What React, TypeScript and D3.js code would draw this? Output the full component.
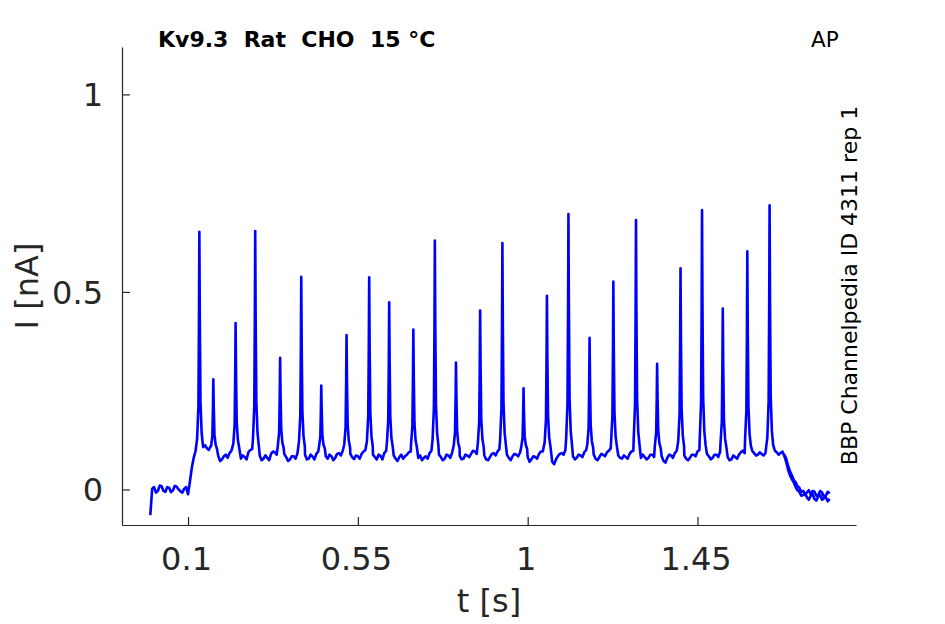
import { useEffect, useRef } from "react";
import * as d3 from "d3";

// spike times [s] and peak currents [nA]
const spikeTimes = [
    0.130, 0.167, 0.226, 0.278, 0.344, 0.400, 0.453, 0.520, 0.580, 0.633,
    0.697, 0.754, 0.810, 0.874, 0.933, 0.989, 1.051, 1.108, 1.164, 1.227,
    1.287, 1.343, 1.405, 1.462, 1.517, 1.582, 1.641,
];
const spikePeaks = [
    0.652, 0.279, 0.421, 0.654, 0.333, 0.538, 0.263, 0.391, 0.537, 0.474,
    0.405, 0.630, 0.321, 0.453, 0.624, 0.256, 0.490, 0.697, 0.384, 0.526,
    0.682, 0.318, 0.560, 0.707, 0.458, 0.603, 0.719,
];

// spike waveform: offsets from the peak time and fraction of the peak height
const spikeShapeDt = [-0.006, -0.0025, -0.001, 0, 0.0012, 0.003, 0.006, 0.0095];
const spikeShapeFrac = [0.05, 0.2, 0.6, 1, 0.6, 0.22, 0.08, 0.02];

// baseline of the sweep, sampled every 10 ms from t = 0
const baseStep = 0.01;
const baseline = [
    -0.065, 0.006, -0.004, 0.008, -0.006, 0.004, -0.002, 0.007, -0.005, 0.002,
    -0.012, 0.055, 0.098, 0.105, 0.107, 0.104, 0.110, 0.100, 0.085, 0.076,
    0.088, 0.092, 0.100, 0.095, 0.078, 0.082, 0.094, 0.102, 0.100, 0.086,
    0.078, 0.080, 0.090, 0.094, 0.098, 0.095, 0.082, 0.076, 0.084, 0.092,
    0.100, 0.088, 0.078, 0.083, 0.090, 0.098, 0.095, 0.078, 0.084, 0.080,
    0.092, 0.098, 0.100, 0.090, 0.077, 0.084, 0.090, 0.100, 0.100, 0.088,
    0.076, 0.085, 0.092, 0.100, 0.095, 0.078, 0.082, 0.078, 0.088, 0.096,
    0.100, 0.080, 0.074, 0.084, 0.092, 0.100, 0.095, 0.082, 0.078, 0.086,
    0.094, 0.100, 0.085, 0.078, 0.086, 0.090, 0.096, 0.100, 0.095, 0.076,
    0.082, 0.092, 0.096, 0.100, 0.095, 0.080, 0.084, 0.088, 0.094, 0.100,
    0.082, 0.076, 0.082, 0.090, 0.096, 0.100, 0.080, 0.064, 0.084, 0.092,
    0.100, 0.100, 0.084, 0.080, 0.086, 0.094, 0.100, 0.095, 0.078, 0.082,
    0.088, 0.094, 0.104, 0.100, 0.086, 0.078, 0.082, 0.090, 0.098, 0.100,
    0.080, 0.082, 0.080, 0.088, 0.100, 0.095, 0.072, 0.080, 0.086, 0.092,
    0.100, 0.095, 0.078, 0.080, 0.088, 0.096, 0.100, 0.095, 0.084, 0.080,
    0.088, 0.096, 0.100, 0.082, 0.076, 0.082, 0.088, 0.098, 0.100, 0.095,
    0.092, 0.088, 0.090, 0.092, 0.100, 0.095, 0.094, 0.092, 0.085, 0.050,
    0.026, 0.006, -0.006, -0.014, -0.020, -0.016, -0.024, -0.018, -0.026, -0.020,
    -0.024,
];
// the same sweep halfway between those samples (t = 0.005, 0.015, ...)
const baselineMid = [
    0.002, -0.008, 0.010, -0.004, 0.006, -0.007, 0.009, 0.000, -0.008, 0.006,
    0.020, 0.080, 0.110, 0.110, 0.112, 0.100, 0.104, 0.090, 0.072, 0.084,
    0.080, 0.098, 0.098, 0.088, 0.086, 0.076, 0.100, 0.100, 0.090, 0.074,
    0.086, 0.074, 0.096, 0.088, 0.096, 0.090, 0.072, 0.084, 0.078, 0.096,
    0.092, 0.076, 0.088, 0.076, 0.096, 0.096, 0.084, 0.088, 0.074, 0.090,
    0.086, 0.100, 0.096, 0.082, 0.086, 0.078, 0.096, 0.100, 0.094, 0.082,
    0.088, 0.076, 0.098, 0.098, 0.086, 0.072, 0.088, 0.084, 0.094, 0.098,
    0.090, 0.086, 0.080, 0.078, 0.098, 0.098, 0.088, 0.074, 0.088, 0.080,
    0.098, 0.094, 0.076, 0.088, 0.082, 0.098, 0.090, 0.098, 0.086, 0.074,
    0.090, 0.086, 0.102, 0.098, 0.088, 0.074, 0.090, 0.084, 0.098, 0.092,
    0.070, 0.084, 0.078, 0.096, 0.090, 0.090, 0.070, 0.076, 0.090, 0.088,
    0.100, 0.094, 0.076, 0.088, 0.082, 0.100, 0.098, 0.088, 0.074, 0.090,
    0.084, 0.098, 0.100, 0.094, 0.080, 0.086, 0.078, 0.096, 0.098, 0.092,
    0.088, 0.076, 0.088, 0.082, 0.098, 0.084, 0.068, 0.088, 0.080, 0.098,
    0.098, 0.086, 0.074, 0.088, 0.084, 0.100, 0.098, 0.090, 0.076, 0.088,
    0.082, 0.098, 0.094, 0.074, 0.086, 0.078, 0.094, 0.092, 0.098, 0.098,
    0.086, 0.094, 0.086, 0.098, 0.096, 0.098, 0.088, 0.096, 0.070, 0.036,
    0.018, -0.002, -0.016, -0.010, -0.026, -0.012, -0.028, -0.014, -0.022, -0.030,
];

// second sweep, only where it separates from the first (end of the step)
const sweep2Times = [1.68, 1.685, 1.69, 1.695, 1.70, 1.705, 1.71, 1.715, 1.72, 1.725, 1.73, 1.735, 1.74, 1.745, 1.75, 1.755, 1.76, 1.765, 1.77, 1.775, 1.78, 1.785, 1.79, 1.795, 1.80];
const sweep2Values = [0.088, 0.078, 0.060, 0.046, 0.036, 0.024, 0.018, 0.008, 0.004, -0.006, -0.004, -0.012, -0.008, -0.002, -0.012, -0.004, -0.006, -0.016, -0.014, -0.004, -0.008, -0.018, -0.016, -0.006, -0.010];

const xTicks = [0.1, 0.55, 1, 1.45];
const xTickLabels = ["0.1", "0.55", "1", "1.45"];
const yTicks = [0, 0.5, 1];
const yTickLabels = ["0", "0.5", "1"];

const title = "Kv9.3  Rat  CHO  15 \u00b0C";
const cornerLabel = "AP";
const sideLabel = "BBP Channelpedia ID 4311 rep 1";

export default function App() {
    const ref = useRef<SVGSVGElement>(null);

    useEffect(() => {
        const svg = d3.select(ref.current);
        svg.selectAll("*").remove();

        const left = 122, right = 856, top = 47, bottom = 525;
        const axisColor = "#262626";
        const font = "DejaVu Sans, sans-serif";
        const traceColor = "#0000ff";

        const x = d3.scaleLinear().domain([-0.075, 1.87]).range([left, right]);
        const y = d3.scaleLinear().domain([-0.09, 1.12]).range([bottom, top]);

        // merge baseline samples with spike waveforms
        const samples: [number, number][] = [];
        baseline.forEach((v, i) => samples.push([i * baseStep, v]));
        baselineMid.forEach((v, i) => samples.push([i * baseStep + baseStep / 2, v]));

        const pts: [number, number][] = samples.filter(([t]) =>
            !spikeTimes.some(s => t > s - 0.0065 && t < s + 0.0095));
        spikeTimes.forEach((s, k) => {
            spikeShapeDt.forEach((dt, j) => {
                pts.push([s + dt, 0.1 + spikeShapeFrac[j] * (spikePeaks[k] - 0.1)]);
            });
        });
        pts.sort((a, b) => a[0] - b[0]);

        const line = d3.line<[number, number]>()
            .x(d => x(d[0]))
            .y(d => y(d[1]));

        const g = svg.append("g");

        g.append("path")
            .datum(sweep2Times.map((t, i) => [t, sweep2Values[i]] as [number, number]))
            .attr("d", line)
            .attr("fill", "none")
            .attr("stroke", traceColor)
            .attr("stroke-width", 2.6)
            .attr("stroke-linejoin", "round");

        g.append("path")
            .datum(pts)
            .attr("d", line)
            .attr("fill", "none")
            .attr("stroke", traceColor)
            .attr("stroke-width", 2.6)
            .attr("stroke-linejoin", "round");

        // axes (box off, ticks pointing in)
        const xAxis = g.append("g")
            .attr("transform", `translate(0,${bottom})`)
            .call(d3.axisBottom(x).tickValues(xTicks).tickSizeInner(-8).tickSizeOuter(0)
                .tickFormat((_, i) => xTickLabels[i]));
        const yAxis = g.append("g")
            .attr("transform", `translate(${left},0)`)
            .call(d3.axisLeft(y).tickValues(yTicks).tickSizeInner(-8).tickSizeOuter(0)
                .tickFormat((_, i) => yTickLabels[i]));

        [xAxis, yAxis].forEach(a => {
            a.select(".domain").attr("stroke", axisColor).attr("stroke-width", 1.2);
            a.selectAll(".tick line").attr("stroke", axisColor).attr("stroke-width", 1.2);
            a.selectAll(".tick text")
                .attr("fill", axisColor)
                .style("font-family", font)
                .style("font-size", "32px");
        });
        xAxis.selectAll(".tick text").attr("x", -2).attr("y", 22).attr("dy", "0.71em");
        yAxis.selectAll(".tick text").attr("x", -19).attr("dy", "0.36em");

        g.append("text")
            .attr("x", (left + right) / 2)
            .attr("y", 612)
            .attr("text-anchor", "middle")
            .attr("fill", axisColor)
            .style("font-family", font)
            .style("font-size", "32px")
            .text("t [s]");

        g.append("text")
            .attr("transform", `translate(38,${(top + bottom) / 2}) rotate(-90)`)
            .attr("text-anchor", "middle")
            .attr("fill", axisColor)
            .style("font-family", font)
            .style("font-size", "32px")
            .text("I [nA]");

        g.append("text")
            .attr("x", 158)
            .attr("y", 47)
            .attr("fill", "#000")
            .style("font-family", font)
            .style("font-weight", "bold")
            .style("font-size", "22px")
            .style("white-space", "pre")
            .text(title);

        g.append("text")
            .attr("x", 811)
            .attr("y", 46.5)
            .attr("fill", "#000")
            .style("font-family", font)
            .style("font-size", "21.5px")
            .text(cornerLabel);

        g.append("text")
            .attr("transform", `translate(857,285.5) rotate(-90)`)
            .attr("text-anchor", "middle")
            .attr("fill", "#000")
            .style("font-family", font)
            .style("font-size", "22px")
            .text(sideLabel);
    }, []);

    return (
        <svg ref={ref} width={945} height={624}
            style={{ position: "absolute", left: 0, top: 0, background: "#fff" }} />
    );
}
